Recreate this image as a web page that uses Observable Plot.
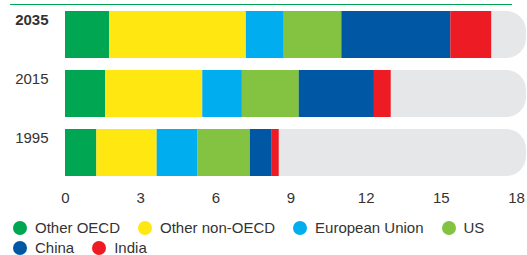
<!DOCTYPE html>
<html>
<head>
<meta charset="utf-8">
<script src="https://cdn.jsdelivr.net/npm/d3@7"></script>
<script src="https://cdn.jsdelivr.net/npm/@observablehq/plot@0.6"></script>
<style>
  html, body { margin: 0; padding: 0; background: #fff; }
  body { font-family: "Liberation Sans", Arial, sans-serif; width: 527px; height: 255px; overflow: hidden; position: relative; }
  #topline { position: absolute; left: 10px; top: 4px; width: 502px; height: 1px; background: #00a651; }
  #legend { display: flex; flex-wrap: wrap; column-gap: 18px; padding: 10px 0 0 13px; font-size: 15px; color: #333; line-height: 20px; }
  .item { display: flex; align-items: center; }
  .sw { width: 14px; height: 14px; border-radius: 50%; margin-right: 8px; }
</style>
</head>
<body>
<div id="topline"></div>
<div id="chart"></div>
<div id="legend"></div>
<script>
const years = ["2035", "2015", "1995"];
const regions = ["Other OECD", "Other non-OECD", "European Union", "US", "China", "India"];
const colors = ["#00a651", "#ffe811", "#00aeef", "#84c341", "#0057a4", "#ed1c24"];
const otherOECD    = [1.76, 1.60, 1.25];
const otherNonOECD = [5.46, 3.88, 2.41];
const europeanUnion = [1.51, 1.58, 1.62];
const us           = [2.30, 2.27, 2.10];
const china        = [4.35, 3.00, 0.87];
const india        = [1.63, 0.67, 0.28];
const xTicks = [0, 3, 6, 9, 12, 15, 18];
const trackMax = 18.4;

const series = [otherOECD, otherNonOECD, europeanUnion, us, china, india];
const data = [];
years.forEach((y, i) => {
  regions.forEach((r, j) => data.push({year: y, region: r, value: series[j][i]}));
});

const svg = Plot.plot({
  width: 527,
  height: 208,
  marginLeft: 65,
  marginRight: 11,
  marginTop: 10,
  marginBottom: 32,
  style: {fontFamily: "'Liberation Sans', Arial, sans-serif", fontSize: "15px", color: "#333", background: "#fff"},
  x: {domain: [0, 18]},
  y: {domain: years, paddingInner: 0.21, paddingOuter: 0},
  color: {domain: regions, range: colors},
  marks: [
    Plot.barX(years, {x1: 0, x2: trackMax, y: d => d, fill: "#e6e7e8", rx: 20}),
    Plot.barX(data, Plot.stackX({x: "value", y: "year", fill: "region", order: regions})),
    Plot.axisX({ticks: xTicks, tickSize: 0, tickPadding: 16, fontSize: 15, label: null}),
    Plot.axisY({tickSize: 0, tickPadding: 17, dy: -15, fontSize: 15, label: null})
  ]
});
d3.select(svg).selectAll("text").filter(function() { return this.textContent === "2035"; }).attr("font-weight", "bold");
document.getElementById("chart").appendChild(svg);

const legend = d3.select("#legend");
regions.forEach((r, i) => {
  const it = legend.append("div").attr("class", "item");
  it.append("div").attr("class", "sw").style("background", colors[i]);
  it.append("span").text(r);
});
</script>
</body>
</html>
